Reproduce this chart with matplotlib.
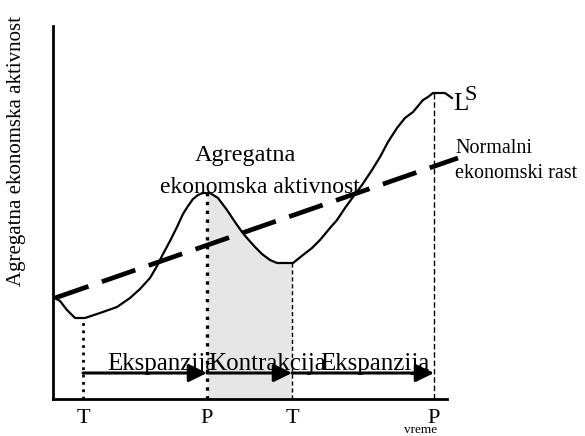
import numpy as np
import matplotlib
matplotlib.use('Agg')
import matplotlib.pyplot as plt

plt.rcParams['font.family'] = ['Liberation Serif', 'DejaVu Serif']

# aggregate economic activity (time, level)
t = np.array([2, 7, 14, 22, 32, 47, 64, 77, 87, 97, 104, 110, 117, 124, 130, 135, 140, 145,
              150, 157, 165, 174, 182, 189, 194, 202, 209, 217, 224, 240, 250, 259, 267, 277,
              284, 292, 300, 309, 319, 327, 335, 344, 352, 360, 365, 370, 375, 380, 392, 399])
activity = np.array([101, 98, 89, 81, 81, 86, 92, 101, 110, 121, 133, 145, 158, 172, 185, 193,
                     200, 204, 206, 206, 201, 189, 177, 167, 161, 152, 145, 139, 136, 136, 144,
                     151, 159, 171, 179, 191, 202, 214, 229, 242, 257, 271, 281, 287, 293, 299,
                     302, 306, 306, 301])

# normal growth trend (start / end)
trend_t = [2, 405]
trend_y = [101, 241]

# turning points
turn_t = [30, 154, 239, 381]
turn_y = [81, 206, 136, 306]
turn_labels = ['T', 'P', 'T', 'P']
turn_styles = [(':', 2.0), (':', 2.4), ((0, (3, 2)), 1.0), ((0, (4, 2)), 1.0)]

phase_names = ['Ekspanzija', 'Kontrakcija', 'Ekspanzija']
phase_text_x = [54, 155, 267]

fig = plt.figure(figsize=(5.85, 4.36), dpi=100)
ax = fig.add_axes([53 / 585, 37 / 436, 410 / 585, 373 / 436])
ax.set_xlim(0, 410)
ax.set_ylim(0, 373)

for s in ['top', 'right']:
    ax.spines[s].set_visible(False)
ax.spines['left'].set_linewidth(2.0)
ax.spines['bottom'].set_linewidth(2.0)
ax.spines['bottom'].set_bounds(0, 394)
ax.set_yticks([])
ax.set_xticks(turn_t, turn_labels, fontsize=16)
ax.tick_params(axis='x', length=0, pad=7)

# contraction shading
sel = (t > turn_t[1]) & (t < turn_t[2])
xs = np.r_[turn_t[1], t[sel], turn_t[2]]
ys = np.interp(xs, t, activity)
ax.fill_between(xs, ys, 0, color='#e6e6e6', lw=0, zorder=1)

# vertical markers
for x, y, (ls, lw) in zip(turn_t, turn_y, turn_styles):
    ax.plot([x, x], [0, y], color='black', ls=ls, lw=lw, zorder=2)

ax.plot(t, activity, color='black', lw=1.6, zorder=3, clip_on=False)
ax.plot(trend_t, trend_y, color='black', lw=3.4, dashes=(7.5, 3.0), zorder=3, clip_on=False)

# phase arrows
for i, name in enumerate(phase_names):
    ax.annotate('', xy=(turn_t[i + 1], 26), xytext=(turn_t[i], 26),
                arrowprops=dict(arrowstyle='-|>,head_length=0.55,head_width=0.27',
                                mutation_scale=20, color='black', lw=2.2,
                                shrinkA=0, shrinkB=0), zorder=4)
    ax.text(phase_text_x[i], 29, name, fontsize=18, va='baseline', ha='left', zorder=5)

ax.text(192, 238, 'Agregatna', fontsize=17.5, ha='center', va='baseline')
ax.text(207, 206, 'ekonomska aktivnost', fontsize=17, ha='center', va='baseline')
ax.text(402, 246, 'Normalni', fontsize=14.5, ha='left', va='baseline', clip_on=False)
ax.text(402, 221, 'ekonomski rast', fontsize=14.5, ha='left', va='baseline', clip_on=False)
ax.text(400, 289, 'L', fontsize=18, ha='left', va='baseline', clip_on=False)
ax.text(412, 299, 'S', fontsize=16, ha='left', va='baseline', clip_on=False)
ax.text(368, -34, 'vreme', fontsize=9.5, ha='center', va='baseline', clip_on=False)

ax.set_ylabel('Agregatna ekonomska aktivnost', fontsize=15)
ax.yaxis.set_label_coords(-27 / 410, 0.665)

fig.savefig('out.png', dpi=100)
